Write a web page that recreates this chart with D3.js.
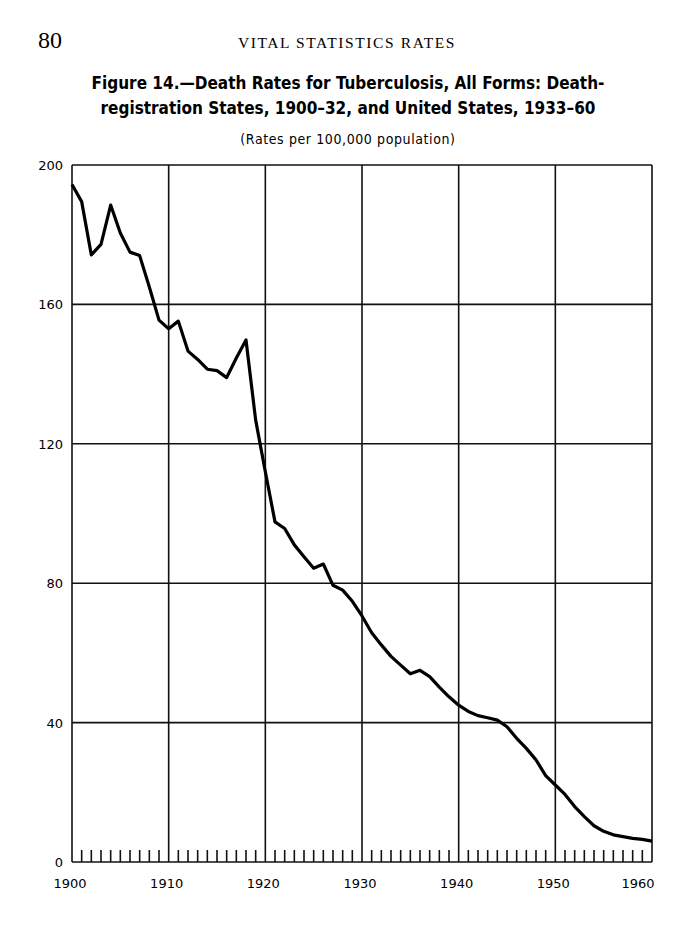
<!DOCTYPE html>
<html><head><meta charset="utf-8">
<script src="https://cdn.jsdelivr.net/npm/d3@7"></script>
<style>body{margin:0;background:#fff}svg{display:block}</style>
</head><body>
<script>
const years = d3.range(1900, 1961);
const rates = [194.4,189.5,174.2,177.2,188.5,180.5,175.0,174.0,165.0,155.5,153.0,155.2,146.6,144.2,141.4,141.0,139.0,144.6,149.8,126.8,112.0,97.6,95.7,91.0,87.6,84.3,85.5,79.4,78.0,74.8,70.6,65.8,62.3,59.0,56.5,54.0,55.0,53.2,50.2,47.4,45.0,43.2,42.0,41.4,40.7,38.8,35.5,32.6,29.3,24.8,22.1,19.4,15.9,13.0,10.4,8.8,7.8,7.3,6.8,6.5,6.0];
const yTicks = [0,40,80,120,160,200];
const xTicks = [1900,1910,1920,1930,1940,1950,1960];

const W = 695, H = 940;
const svg = d3.select("body").append("svg").attr("width", W).attr("height", H);
const x = d3.scaleLinear().domain([1900,1960]).range([72,652]);
const y = d3.scaleLinear().domain([0,200]).range([862,165]);

// header
svg.append("text").attr("x",38).attr("y",48).attr("font-family","Liberation Serif, DejaVu Serif, serif")
  .attr("font-size",24).text("80");
svg.append("text").attr("x",347).attr("y",48).attr("text-anchor","middle")
  .attr("font-family","Liberation Serif, DejaVu Serif, serif").attr("font-size",15.5).attr("letter-spacing",1.6)
  .text("VITAL STATISTICS RATES");
const tf = "'DejaVu Sans Condensed', 'Liberation Sans Narrow', sans-serif";
svg.append("text").attr("x",348).attr("y",89).attr("text-anchor","middle").attr("font-family",tf)
  .attr("font-weight","bold").attr("font-size",17).text("Figure 14.\u2014Death Rates for Tuberculosis, All Forms: Death-");
svg.append("text").attr("x",348).attr("y",114).attr("text-anchor","middle").attr("font-family",tf)
  .attr("font-weight","bold").attr("font-size",17).text("registration States, 1900\u201332, and United States, 1933\u201360");
svg.append("text").attr("x",348).attr("y",144).attr("text-anchor","middle").attr("font-family",tf)
  .attr("font-size",14).attr("letter-spacing",0.6).text("(Rates per 100,000 population)");

const g = svg.append("g");
g.selectAll("line.h").data(yTicks).join("line")
  .attr("x1",x(1900)).attr("x2",x(1960)).attr("y1",d=>y(d)).attr("y2",d=>y(d))
  .attr("stroke","#111").attr("stroke-width",1.6);
g.selectAll("line.v").data(xTicks).join("line")
  .attr("y1",y(0)).attr("y2",y(200)).attr("x1",d=>x(d)).attr("x2",d=>x(d))
  .attr("stroke","#111").attr("stroke-width",1.6);
g.selectAll("line.m").data(years.filter(d=>d%10!==0)).join("line")
  .attr("x1",d=>x(d)).attr("x2",d=>x(d)).attr("y1",y(0)).attr("y2",y(0)-12)
  .attr("stroke","#111").attr("stroke-width",1.6);

const af = "'DejaVu Sans', Verdana, sans-serif";
svg.append("g").selectAll("text").data(yTicks).join("text")
  .attr("x",63).attr("y",d=>y(d)+5).attr("text-anchor","end").attr("font-family",af)
  .attr("font-size",13).text(d=>d);
svg.append("g").selectAll("text").data(xTicks).join("text")
  .attr("x",d=>d===1960?x(d)-14:x(d)-2).attr("y",888).attr("text-anchor","middle").attr("font-family",af)
  .attr("font-size",13).text(d=>d);

const line = d3.line().x((d,i)=>x(years[i])).y(d=>y(d));
svg.append("path").datum(rates).attr("d",line).attr("fill","none")
  .attr("stroke","#000").attr("stroke-width",3.2).attr("stroke-linejoin","round");
</script>
</body></html>
